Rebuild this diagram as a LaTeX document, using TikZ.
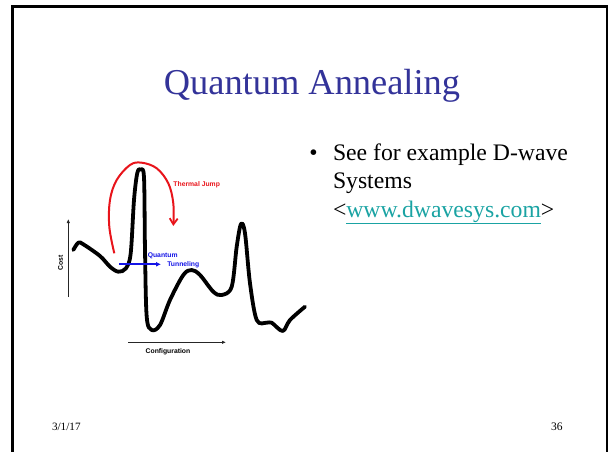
\documentclass[tikz,border=0pt]{standalone}
\usepackage{fontspec}
\setmainfont{Liberation Serif}
\setsansfont{Liberation Sans}
\usetikzlibrary{arrows.meta}
\definecolor{titleblue}{HTML}{333399}
\definecolor{linkteal}{HTML}{1AA3A3}
\definecolor{jumpred}{HTML}{E8141B}
\definecolor{tunblue}{HTML}{1414E6}
\tikzset{
  txt/.style={inner sep=0pt, outer sep=0pt},
  lbl/.style={inner sep=0pt, font=\sffamily\bfseries\fontsize{6.8}{7.5}\selectfont},
  bodytext/.style={txt, anchor=base west, font=\fontsize{23.7}{28}\selectfont},
  axisline/.style={line width=0.9pt, draw=black!85, -{Latex[length=4pt,width=3.5pt]}},
}
\begin{document}
\begin{tikzpicture}[x=1pt,y=-1pt]
\useasboundingbox (0,0) rectangle (611,452);
% frame
\draw[line width=2.5pt] (12.5,452) -- (12.5,6.3) -- (607,6.3) -- (607,452);
% title
\node[txt, anchor=base, text=titleblue, font=\fontsize{36.4}{42}\selectfont] (title) at (312,94.3) {Quantum Annealing};
% bullet text
\node[txt, anchor=base, font=\fontsize{23.7}{28}\selectfont] (bul) at (313.5,160) {\textbullet};
\node[bodytext] (l1) at (333,160) {See for example D-wave};
\node[bodytext] (l2) at (333,188.5) {Systems};
\node[bodytext] (l3) at (333,217) {<\textcolor{linkteal}{\underline{www.dwavesys.com}}>};
% footer
\node[txt, anchor=base west, font=\fontsize{11.2}{13}\selectfont] (date) at (52,430) {3/1/17};
\node[txt, anchor=base east, font=\fontsize{11.5}{13}\selectfont] (pg) at (562.5,430) {36};
% axes
\coordinate (c0) at (68.3,297);
\coordinate (c1) at (68.3,219);
\coordinate (f0) at (128,342.3);
\coordinate (f1) at (226,342.3);
\draw[axisline] (c0) -- (c1);
\draw[axisline] (f0) -- (f1);
\node[lbl, rotate=90] (cost) at (60.5,263) {Cost};
\node[lbl] (conf) at (168,352) {Configuration};
% energy landscape
\draw[line width=3.8pt, line cap=round, line join=round] plot[smooth, tension=0.55] coordinates {
(73.3,250) (78.3,242.7) (83.3,244.3) (100,256) (110,266.7) (118.3,271.7) (126,268.3) (130.7,253.3)
(134,200) (137.3,173) (140.7,169.5) (144,177.5) (145,250) (146.7,316.7) (151.7,330) (160,325)
(170,300) (183.3,275) (191.7,270) (200,275) (213.3,291.7) (221.7,295) (231.7,286.7) (236.7,246.7)
(241,224) (245,233.3) (250,283.3) (256.7,320) (266.7,322.7) (271.7,322.7) (282.7,331) (290,320) (305,306.7)};
% thermal jump
\coordinate (j0) at (114.3,253.3);
\coordinate (j1) at (173.3,226);
\draw[jumpred, line width=2pt, -{Straight Barb[length=6pt,width=8pt,line width=1.8pt]}] plot[smooth, tension=0.6] coordinates {
(114.3,253.3) (109.3,226.7) (110,200) (116.7,180) (130,165) (141.7,162.7) (156.7,168.3) (168.3,183.3) (173.3,203.3) (173.3,226)};
\node[lbl, text=jumpred] (tj) at (196.7,184.3) {Thermal Jump};
% tunneling
\coordinate (t0) at (119,264.3);
\coordinate (t1) at (161,264.3);
\draw[tunblue, line width=1.7pt, -{Latex[length=5pt,width=5pt]}] (t0) -- (t1);
\node[lbl, text=tunblue] (q1) at (162.7,255.7) {Quantum};
\node[lbl, text=tunblue] (q2) at (183.3,264.3) {Tunneling};
\end{tikzpicture}
\end{document}
